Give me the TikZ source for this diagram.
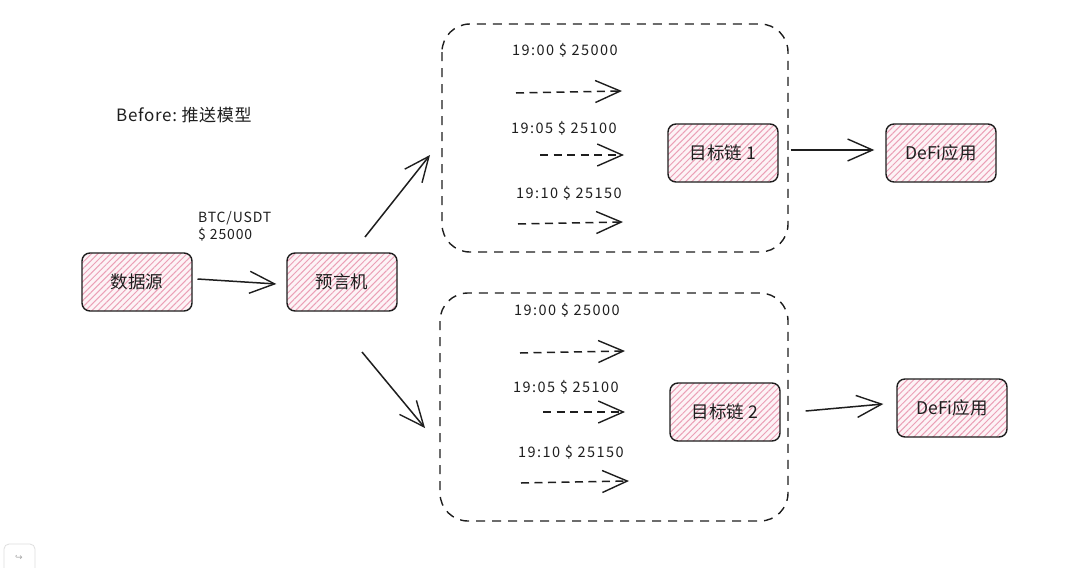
\documentclass[tikz,border=0pt]{standalone}
\usepackage{fontspec}
\setmainfont{Noto Sans CJK SC}
\newfontfamily\symfont{DejaVu Sans}
\usetikzlibrary{arrows.meta,patterns.meta}
\definecolor{ink}{HTML}{1E1E1E}
\definecolor{hatch}{HTML}{EBA0B6}
\definecolor{hfill}{HTML}{FDF3F6}
\begin{document}
\begin{tikzpicture}[x=1pt,y=-1pt,
  box/.style={draw=ink, line width=1.4pt, rounded corners=8pt, minimum width=110pt, minimum height=58pt,
    preaction={fill=hfill}, pattern={Lines[angle=45,distance=4.5pt,line width=1pt]}, pattern color=hatch,
    font=\fontsize{17.5}{20}\selectfont, text=ink},
  arr/.style={draw=ink, line width=1.5pt, -{Straight Barb[length=25pt,width=22pt,line width=1.4pt]}},
  darr/.style={arr, dash pattern=on 8pt off 5.5pt},
  grp/.style={draw=ink, line width=1.4pt, dash pattern=on 9pt off 7pt, rounded corners=28pt},
  lbl/.style={font=\fontsize{14.5}{17}\selectfont\addfontfeature{LetterSpace=10}, text=ink, anchor=west, inner sep=0pt}
]
\fill[white] (0,0) rectangle (1080,568);
\useasboundingbox (0,0) rectangle (1080,568);

% title
\node[lbl, font=\fontsize{17}{19}\selectfont\addfontfeature{LetterSpace=4}] (title) at (116,115) {Before:\ 推送模型};

% main nodes
\node[box] (src) at (137,282) {数据源};
\node[box] (orc) at (342,282) {预言机};
\node[lbl, align=left, font=\fontsize{14}{17}\selectfont\addfontfeature{LetterSpace=6}] (price) at (198,226) {BTC/USDT\\\$ 25000};
\draw[arr] ([xshift=5pt,yshift=3pt]src.east) -- ([xshift=-10pt,yshift=-2pt]orc.west);

% groups
\draw[grp] (442,24) rectangle (788,252);
\draw[grp] (440,293) rectangle (788,521);

% branching arrows
\coordinate (u1) at (365,237);
\coordinate (u2) at (430,155);
\coordinate (l1) at (362,352);
\coordinate (l2) at (425,428);
\draw[arr] (u1) -- (u2);
\draw[arr] (l1) -- (l2);

% chains and apps
\node[box] (c1) at (723,153) {目标链\ 1};
\node[box] (c2) at (725,412) {目标链\ 2};
\node[box] (d1) at (941,153) {DeFi应用};
\node[box] (d2) at (952,408) {DeFi应用};
\draw[arr] ([xshift=12pt,yshift=3pt]c1.east) -- ([xshift=-11pt,yshift=3pt]d1.west);
\draw[arr] ([xshift=25pt,yshift=1pt]c2.east) -- ([xshift=-13pt,yshift=4pt]d2.west);

% upper price feed
\node[lbl] (t1) at (512,50) {19:00 \$ 25000};
\node[lbl] (t2) at (511,128) {19:05 \$ 25100};
\node[lbl] (t3) at (516,193) {19:10 \$ 25150};
\coordinate (p1s) at (516,93); \coordinate (p1e) at (622,91);
\coordinate (p2s) at (540,155); \coordinate (p2e) at (624,155);
\coordinate (p3s) at (518,224); \coordinate (p3e) at (623,222);
\draw[darr] (p1s) -- (p1e);
\draw[darr] (p2s) -- (p2e);
\draw[darr] (p3s) -- (p3e);

% lower price feed
\node[lbl] (s1) at (514,310) {19:00 \$ 25000};
\node[lbl] (s2) at (513,387) {19:05 \$ 25100};
\node[lbl] (s3) at (518,452) {19:10 \$ 25150};
\coordinate (q1s) at (520,353); \coordinate (q1e) at (625,351);
\coordinate (q2s) at (543,412); \coordinate (q2e) at (625,412);
\coordinate (q3s) at (521,483); \coordinate (q3e) at (629,481);
\draw[darr] (q1s) -- (q1e);
\draw[darr] (q2s) -- (q2e);
\draw[darr] (q3s) -- (q3e);

% corner widget
\draw[gray!25, line width=0.8pt, rounded corners=5pt] (4,580) -- (4,544) -- (35,544) -- (35,580);
\node[text=gray!70, font=\symfont\fontsize{9}{10}\selectfont] (icon) at (19,558) {↪};
\end{tikzpicture}
\end{document}
